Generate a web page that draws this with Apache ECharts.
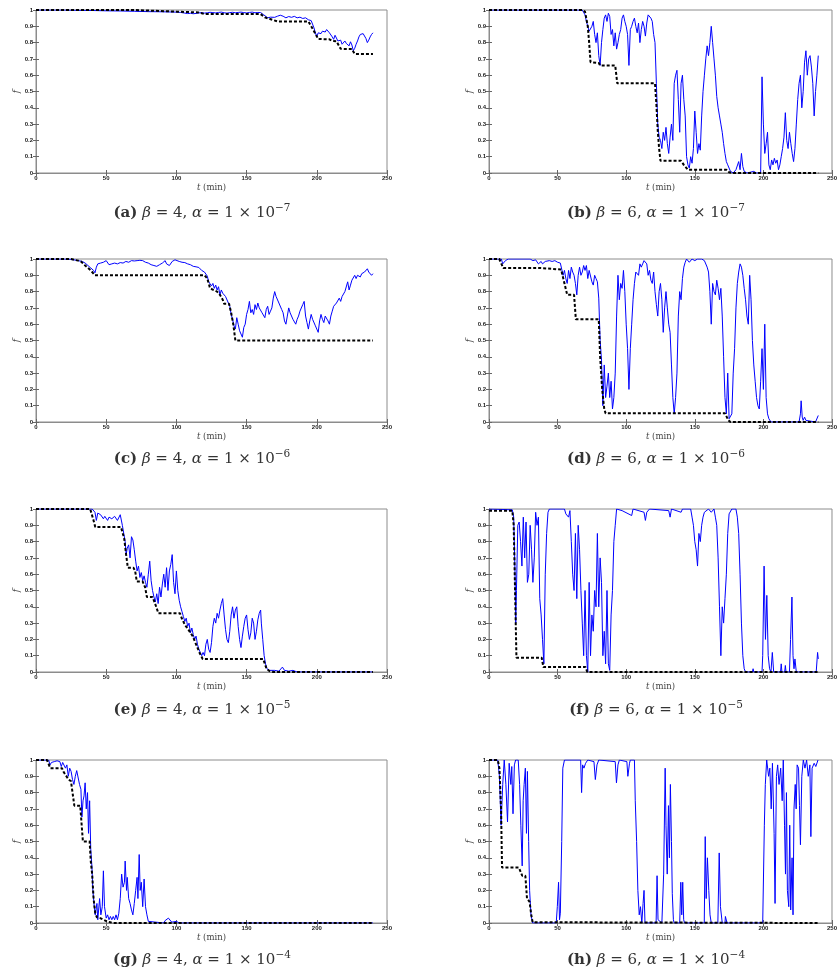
<!DOCTYPE html>
<html lang="en">
<head>
<meta charset="UTF-8">
<title>f vs t</title>
<style>
  html, body { margin: 0; padding: 0; background: #fff; }
  #main { width: 840px; height: 974px; }
</style>
</head>
<body>
<div id="main"></div>
<script src="https://cdn.jsdelivr.net/npm/echarts@6/dist/echarts.min.js"></script>
<script>
// stochastic runs (blue) and deterministic curves (black dashed), [t (min), f]
var stochA = [[0,1],[20,1],[30,0.998],[40,0.997],[50,0.995],[60,0.994],[70,0.992],[80,0.99],[90,0.989],[100,0.987],[103,0.985],[106,0.981],[108,0.978],[110,0.98],[112,0.977],[114,0.979],[116,0.982],[118,0.984],[120,0.981],[122,0.983],[124,0.986],[126,0.984],[128,0.982],[130,0.985],[132,0.987],[134,0.983],[136,0.981],[138,0.984],[140,0.986],[142,0.983],[144,0.985],[146,0.987],[148,0.984],[150,0.982],[152,0.985],[154,0.987],[156,0.983],[158,0.985],[160,0.984],[162,0.972],[163,0.96],[165,0.952],[167,0.956],[168,0.948],[170,0.955],[172,0.962],[174,0.968],[175,0.958],[176,0.962],[178,0.952],[180,0.96],[182,0.955],[184,0.961],[186,0.952],[188,0.956],[190,0.948],[192,0.952],[194,0.94],[196,0.935],[198,0.89],[199,0.86],[200,0.835],[201,0.86],[203,0.855],[204,0.87],[206,0.865],[207,0.88],[208,0.885],[209,0.86],[210,0.87],[211,0.835],[212,0.82],[213,0.845],[214,0.85],[215,0.81],[216,0.80],[217,0.815],[218,0.79],[220,0.81],[221,0.795],[222,0.80],[223,0.78],[224,0.805],[225,0.785],[226,0.75],[227,0.765],[228,0.79],[229,0.81],[230,0.835],[231,0.85],[232,0.86],[233,0.855],[234,0.845],[235,0.825],[236,0.80],[237,0.815],[238,0.835],[239,0.85],[240,0.86]];
var detA = [[0,1],[70,1],[100,0.99],[116,0.985],[120,0.975],[160,0.975],[163,0.955],[172,0.93],[194,0.93],[198,0.87],[201,0.822],[209,0.82],[211,0.81],[214,0.808],[217,0.762],[225,0.76],[227,0.73],[240,0.73]];

var stochB = [[0,1],[68,1],[70,0.97],[71,0.93],[72,0.9],[73,0.87],[74,0.88],[75,0.9],[76,0.93],[77,0.85],[78,0.8],[79,0.86],[80,0.72],[81,0.66],[82,0.8],[83,0.88],[84,0.95],[85,0.97],[86,0.93],[87,0.98],[88,0.96],[89,0.85],[90,0.88],[91,0.78],[92,0.86],[93,0.76],[94,0.8],[95,0.85],[96,0.88],[97,0.95],[98,0.97],[99,0.93],[100,0.9],[101,0.85],[102,0.66],[103,0.88],[104,0.9],[105,0.93],[106,0.95],[107,0.9],[108,0.86],[109,0.92],[110,0.8],[111,0.88],[112,0.93],[113,0.9],[114,0.84],[115,0.92],[116,0.97],[117,0.98],[118,0.95],[119,0.93],[120,0.85],[121,0.8],[122,0.55],[123,0.3],[124,0.22],[125,0.2],[126,0.15],[127,0.25],[128,0.2],[129,0.28],[130,0.18],[131,0.12],[132,0.22],[133,0.3],[134,0.2],[135,0.55],[136,0.6],[137,0.63],[138,0.45],[139,0.25],[140,0.55],[141,0.6],[142,0.45],[143,0.35],[144,0.1],[145,0.05],[146,0.03],[147,0.1],[148,0.06],[149,0.15],[150,0.38],[151,0.25],[152,0.12],[153,0.18],[154,0.14],[155,0.35],[156,0.5],[157,0.6],[158,0.7],[159,0.78],[160,0.72],[161,0.8],[162,0.9],[163,0.8],[164,0.7],[165,0.6],[166,0.47],[167,0.4],[168,0.35],[169,0.3],[170,0.25],[171,0.18],[172,0.12],[173,0.07],[174,0.05],[176,0.01],[178,0],[180,0.02],[181,0.01],[182,0.07],[183,0.02],[184,0.12],[185,0.04],[186,0.01],[188,0],[193,0.01],[194,0.02],[195,0],[198,0],[199,0.59],[200,0.3],[201,0.12],[202,0.18],[203,0.25],[204,0.05],[205,0.02],[206,0.08],[207,0.05],[208,0.09],[209,0.06],[210,0.08],[211,0.02],[212,0.05],[213,0.1],[214,0.15],[215,0.22],[216,0.37],[217,0.2],[218,0.15],[219,0.25],[220,0.18],[221,0.12],[222,0.07],[223,0.15],[224,0.3],[225,0.45],[226,0.55],[227,0.6],[228,0.4],[229,0.5],[230,0.68],[231,0.75],[232,0.6],[233,0.7],[234,0.72],[235,0.65],[236,0.55],[237,0.35],[238,0.5],[239,0.6],[240,0.72]];
var detB = [[0,1],[68,1],[70,0.99],[72,0.9],[73,0.8],[74,0.68],[80,0.675],[81,0.66],[92,0.66],[93.5,0.55],[121,0.55],[122,0.42],[123,0.26],[124,0.15],[125,0.075],[140,0.075],[142,0.05],[145,0.02],[173,0.02],[175,0.005],[177,0],[240,0]];

var stochC = [[0,1],[20,1],[25,0.998],[30,0.99],[33,0.985],[35,0.975],[37,0.96],[39,0.945],[41,0.93],[42,0.915],[43,0.95],[44,0.97],[46,0.975],[48,0.98],[50,0.99],[52,0.965],[54,0.97],[56,0.975],[58,0.97],[60,0.978],[62,0.975],[64,0.985],[66,0.98],[68,0.99],[70,0.988],[72,0.99],[74,0.992],[76,0.99],[78,0.98],[80,0.975],[82,0.965],[84,0.96],[86,0.955],[88,0.965],[90,0.975],[92,0.99],[93,0.97],[95,0.96],[97,0.985],[99,0.995],[100,1],[102,0.985],[104,0.98],[106,0.978],[108,0.97],[110,0.965],[112,0.955],[114,0.952],[116,0.948],[118,0.93],[120,0.92],[121,0.91],[122,0.895],[123,0.86],[124,0.865],[125,0.835],[126,0.85],[127,0.82],[128,0.84],[129,0.81],[130,0.83],[131,0.78],[132,0.81],[133,0.79],[134,0.8],[135,0.77],[136,0.76],[137,0.73],[138,0.71],[139,0.66],[140,0.63],[141,0.59],[142,0.57],[143,0.64],[144,0.6],[145,0.56],[146,0.55],[147,0.52],[148,0.58],[149,0.6],[150,0.66],[151,0.69],[152,0.74],[153,0.67],[154,0.69],[155,0.66],[156,0.72],[157,0.69],[158,0.73],[159,0.7],[160,0.71],[161,0.67],[162,0.68],[163,0.64],[164,0.69],[165,0.71],[166,0.66],[167,0.68],[168,0.7],[169,0.76],[170,0.8],[171,0.77],[172,0.78],[173,0.73],[174,0.74],[175,0.69],[176,0.67],[177,0.62],[178,0.6],[179,0.65],[180,0.7],[181,0.67],[182,0.68],[183,0.63],[184,0.64],[185,0.6],[186,0.63],[187,0.65],[188,0.68],[189,0.69],[190,0.72],[191,0.74],[192,0.65],[193,0.61],[194,0.57],[195,0.62],[196,0.66],[197,0.63],[198,0.62],[199,0.59],[200,0.6],[201,0.55],[202,0.62],[203,0.66],[204,0.63],[205,0.61],[206,0.65],[207,0.66],[208,0.62],[209,0.6],[210,0.65],[211,0.68],[212,0.71],[213,0.7],[214,0.73],[215,0.72],[216,0.76],[217,0.74],[218,0.77],[219,0.77],[220,0.8],[221,0.81],[222,0.86],[223,0.81],[224,0.84],[225,0.87],[226,0.87],[227,0.9],[228,0.88],[229,0.9],[230,0.9],[231,0.89],[232,0.91],[233,0.9],[234,0.92],[235,0.93],[236,0.94],[237,0.92],[238,0.91],[239,0.9],[240,0.91]];
var detC = [[0,1],[25,1],[30,0.99],[32,0.985],[35,0.96],[39,0.93],[42,0.9],[120,0.9],[122,0.88],[123,0.85],[124,0.82],[129,0.8],[131,0.78],[133,0.75],[134,0.725],[137.5,0.725],[139,0.67],[140.5,0.6],[142,0.5],[240,0.5]];

var stochD = [[0,1],[9,1],[10,0.97],[11,0.98],[12,0.99],[14,1],[30,1],[32,0.99],[34,0.995],[36,0.97],[37,0.96],[38,0.985],[39,0.97],[40,0.96],[41,0.985],[42,0.975],[44,0.99],[46,0.985],[48,0.99],[50,0.98],[52,0.975],[53,0.97],[54,0.9],[55,0.93],[56,0.88],[57,0.85],[58,0.93],[59,0.88],[60,0.95],[61,0.92],[62,0.9],[63,0.85],[64,0.78],[65,0.9],[66,0.95],[67,0.9],[68,0.92],[69,0.96],[70,0.93],[71,0.96],[72,0.88],[73,0.93],[74,0.92],[75,0.86],[76,0.84],[77,0.9],[78,0.88],[79,0.86],[80,0.76],[81,0.5],[82,0.38],[83,0.1],[84,0.35],[85,0.15],[86,0.22],[87,0.3],[88,0.15],[89,0.25],[90,0.08],[91,0.15],[92,0.3],[93,0.65],[94,0.9],[95,0.75],[96,0.85],[97,0.82],[98,0.93],[99,0.8],[100,0.6],[101,0.45],[102,0.2],[103,0.45],[104,0.6],[105,0.75],[106,0.85],[107,0.92],[108,0.93],[109,0.9],[110,0.97],[111,0.95],[112,0.97],[113,0.99],[114,1],[115,0.97],[116,0.9],[117,0.93],[118,0.87],[119,0.85],[120,0.92],[121,0.8],[122,0.72],[123,0.65],[124,0.8],[125,0.85],[126,0.75],[127,0.55],[128,0.7],[129,0.8],[130,0.7],[131,0.6],[132,0.55],[133,0.35],[134,0.15],[135,0.05],[136,0.15],[137,0.3],[138,0.65],[139,0.8],[140,0.75],[141,0.88],[142,0.95],[143,0.98],[144,1],[146,0.98],[148,1],[150,0.99],[152,1],[155,1],[157,0.99],[158,0.98],[159,0.95],[160,0.92],[161,0.8],[162,0.6],[163,0.85],[164,0.8],[165,0.78],[166,0.87],[167,0.82],[168,0.75],[169,0.82],[170,0.65],[171,0.4],[172,0.15],[173,0.05],[174,0.3],[175,0.02],[176,0.01],[177,0.05],[178,0.3],[179,0.45],[180,0.7],[181,0.85],[182,0.92],[183,0.97],[184,0.95],[185,0.9],[186,0.82],[187,0.75],[188,0.65],[189,0.6],[190,0.9],[191,0.75],[192,0.5],[193,0.35],[194,0.25],[195,0.15],[196,0.1],[197,0.08],[198,0.25],[199,0.45],[200,0.2],[201,0.6],[202,0.15],[203,0.05],[204,0.02],[205.5,0],[226,0],[227,0.05],[227.5,0.13],[228.3,0.03],[229,0.01],[230,0.03],[231,0.01],[232,0],[238,0],[240,0.04]];
var detD = [[0,1],[7.5,1],[10.4,0.945],[37,0.945],[38,0.935],[52.6,0.935],[55,0.85],[57,0.78],[62,0.78],[63.3,0.63],[80,0.63],[81,0.4],[82.5,0.2],[84,0.08],[85,0.053],[172,0.053],[174.5,0.01],[176,0],[240,0]];

var stochE = [[0,1],[40,1],[41,0.99],[42,0.98],[43,0.93],[44,0.975],[45,0.985],[46,0.965],[47,0.975],[48,0.94],[49,0.955],[50,0.96],[51,0.93],[52,0.95],[53,0.96],[54,0.94],[55,0.93],[56,0.955],[57,0.95],[58,0.93],[59,0.925],[60,0.965],[61,0.97],[61.5,0.9],[62.5,0.85],[63.5,0.8],[64.2,0.72],[65,0.76],[66,0.78],[67,0.7],[68,0.83],[69,0.81],[70,0.75],[71,0.68],[72,0.62],[73,0.65],[74,0.58],[75,0.61],[76,0.56],[77,0.59],[78,0.55],[79,0.52],[80,0.6],[81,0.68],[82,0.56],[83,0.5],[84,0.46],[85,0.43],[86,0.48],[87,0.42],[88,0.52],[89,0.46],[90,0.54],[91,0.6],[92,0.52],[93,0.64],[94,0.5],[95,0.62],[96,0.66],[97,0.72],[98,0.55],[99,0.48],[100,0.62],[101,0.5],[102,0.44],[103,0.4],[104,0.37],[105,0.34],[106,0.31],[107,0.33],[108,0.28],[109,0.3],[110,0.24],[111,0.27],[112,0.23],[113,0.2],[114,0.22],[115,0.17],[116,0.14],[117,0.12],[118,0.1],[119,0.12],[120,0.1],[121,0.17],[122,0.2],[123,0.14],[124,0.12],[125,0.18],[126,0.28],[127,0.33],[128,0.3],[129,0.36],[130,0.33],[131,0.38],[132,0.42],[133,0.45],[134,0.35],[135,0.26],[136,0.2],[137,0.18],[138,0.25],[139,0.35],[140,0.4],[141,0.33],[142,0.38],[143,0.4],[144,0.28],[145,0.2],[146,0.15],[147,0.22],[148,0.28],[149,0.33],[150,0.35],[151,0.26],[152,0.2],[153,0.24],[154,0.33],[155,0.3],[156,0.2],[157,0.25],[158,0.32],[159,0.36],[160,0.38],[160.5,0.3],[161.5,0.2],[162.5,0.1],[163.5,0.05],[164.5,0.02],[166,0.01],[170,0.01],[173,0.005],[175.5,0.03],[177,0.01],[180,0.005],[183,0.01],[186,0],[240,0]];
var detE = [[0,1],[38.6,1],[41,0.93],[42.2,0.89],[60.5,0.89],[62.8,0.82],[64.2,0.72],[65.4,0.64],[69.4,0.64],[70.6,0.62],[71.8,0.555],[76,0.555],[77.7,0.52],[79,0.46],[83,0.46],[84.8,0.42],[87.2,0.36],[102.6,0.36],[103.8,0.33],[106,0.29],[108.5,0.26],[111.6,0.22],[114,0.17],[116.4,0.12],[118.7,0.08],[161.8,0.08],[164.2,0.02],[166.5,0.005],[169,0],[240,0]];

var stochF = [[0,1],[17,0.995],[18,0.95],[19,0.6],[19.5,0.3],[20,0.5],[21,0.9],[22,0.92],[23,0.8],[24,0.65],[25,0.95],[26,0.7],[27,0.92],[28,0.55],[29,0.6],[30,0.9],[31,0.75],[32,0.55],[33,0.7],[34,0.98],[35,0.9],[36,0.95],[37,0.45],[38,0.35],[39,0.2],[40,0.05],[41,0.6],[42,0.85],[43,0.98],[44,1],[55,1],[56,0.97],[57,0.96],[58,0.95],[59,0.99],[60,0.8],[61,0.6],[62,0.5],[63,0.85],[64,0.45],[65,0.9],[66,0.75],[67,0.5],[68,0.3],[69,0.1],[70,0.5],[71,0.1],[72,0],[73,0.55],[74,0.1],[75,0.35],[76,0.25],[77,0.5],[78,0.4],[79,0.85],[80,0.4],[81,0.7],[82,0.55],[83,0.1],[84,0.25],[85,0.05],[86,0.5],[87,0.05],[88,0.01],[89,0.35],[90,0.5],[91,0.8],[92,0.9],[93,1],[97,0.99],[98,1],[104,0.96],[105,1],[113,0.98],[114,0.93],[115,0.98],[117,1],[131,0.99],[132,0.95],[133,1],[140,0.98],[141,1],[147,1],[148,0.95],[149,0.9],[150,0.8],[151,0.75],[152,0.65],[153,0.85],[154,0.8],[155,0.9],[156,0.95],[157,0.98],[158,0.97],[160,1],[162,0.98],[164,1],[165,0.95],[166,0.9],[167,0.7],[168,0.4],[169,0.1],[170,0.4],[171,0.3],[172,0.45],[173,0.6],[174,0.85],[175,0.97],[177,1],[180,1],[181,0.95],[182,0.85],[183,0.6],[184,0.3],[185,0.1],[186,0.02],[187,0],[192,0],[192.5,0.02],[193,0],[199,0],[199.5,0.1],[200.5,0.65],[201.5,0.2],[202.5,0.47],[203.5,0.1],[204.5,0.02],[205.5,0],[206.5,0.12],[207.5,0],[212.5,0],[213,0.05],[213.5,0],[215.5,0],[216,0.04],[216.5,0],[219,0],[219.8,0.2],[220.8,0.46],[221.6,0.1],[222.3,0.02],[223,0.08],[224,0],[238.5,0],[239.5,0.12],[240,0.08]];
var detF = [[0,0.99],[17,0.99],[18,0.9],[19,0.5],[20,0.088],[38.4,0.088],[39.6,0.03],[70.4,0.03],[71.6,0],[240,0]];

var stochG = [[0,1],[9,1],[10,0.97],[11,0.985],[12,0.98],[13,0.99],[14,0.985],[15,0.995],[16,1],[17,0.99],[18,0.96],[19,0.985],[20,0.99],[21,0.95],[22,0.97],[23,0.9],[24,0.95],[25,0.93],[26,0.88],[27,0.85],[28,0.9],[29,0.935],[30,0.93],[31,0.85],[32,0.82],[32.7,0.65],[33.5,0.75],[34.2,0.78],[35,0.86],[35.8,0.7],[36.7,0.8],[37.4,0.55],[38.2,0.75],[39,0.45],[39.8,0.35],[40.5,0.2],[41.5,0.1],[42.2,0.05],[43.4,0.12],[44,0.02],[45.3,0.15],[46.2,0.05],[47.2,0.1],[48,0.32],[48.8,0.1],[50,0.03],[51,0.05],[52,0.02],[53,0.04],[54,0.02],[55,0.04],[56,0.02],[57,0.05],[58,0.02],[59,0.06],[60,0.15],[61,0.3],[62,0.22],[63,0.25],[63.5,0.38],[64.5,0.2],[65,0.28],[66,0.15],[67,0.12],[68,0.08],[69,0.05],[70,0.12],[71,0.2],[72,0.28],[72.6,0.15],[73.5,0.42],[74.2,0.2],[75,0.25],[76,0.1],[77,0.27],[78,0.1],[79,0.05],[80,0.01],[81,0],[91,0],[92,0.015],[93,0.01],[94.3,0.03],[95.5,0.02],[96.7,0.005],[100,0.01],[102,0],[240,0]];
var detG = [[0,1],[7.8,1],[10.2,0.95],[18.5,0.95],[19.7,0.926],[20.9,0.926],[23.2,0.88],[24.9,0.87],[27.3,0.72],[31.5,0.72],[33.4,0.5],[38.2,0.5],[39,0.38],[40,0.3],[41,0.15],[42.2,0.06],[43.4,0.035],[45.7,0.03],[48.1,0.02],[50.5,0.01],[52.8,0.005],[55,0],[240,0]];

var stochH = [[0,1],[6.4,1],[7.6,0.9],[8.8,0.6],[10,0.85],[11.1,1],[12.3,0.85],[13.5,0.62],[14.7,0.98],[15.9,0.85],[16.6,0.96],[17.5,0.67],[18.5,0.97],[19.4,1],[21.3,1],[22.3,0.85],[23.2,0.6],[24.2,0.35],[24.9,0.75],[25.6,0.85],[26.5,0.95],[27.3,0.55],[28,0.93],[28.9,0.5],[29.6,0.2],[30.6,0.05],[31.8,0],[49,0],[49.8,0.1],[50.7,0.25],[51.4,0.02],[52,0.06],[53,0.5],[53.8,0.95],[55,1],[66.8,1],[67.5,0.8],[68.2,0.97],[69.2,0.95],[70.4,0.98],[72,1],[76.5,0.99],[77.5,0.88],[78.7,0.97],[80,1],[92,0.99],[92.9,0.86],[94,0.97],[95,1],[100.5,0.99],[101.2,0.9],[102.4,0.98],[103,1],[106,1],[106.6,0.75],[107.6,0.5],[108.5,0.2],[109.5,0.05],[110.4,0.1],[111.4,0],[112.3,0.12],[113,0.2],[113.7,0],[121.8,0],[122.5,0.29],[123.2,0.02],[126,0],[127.3,0.3],[128.4,0.95],[129,0.6],[129.9,0.3],[130.8,0.72],[131.5,0.4],[132.2,0.85],[133,0.5],[133.6,0.18],[134.4,0.02],[135,0],[139,0],[139.8,0.25],[140.5,0.05],[141.2,0.25],[141.9,0.02],[142.5,0],[156.9,0],[157.6,0.53],[158.3,0.15],[159.2,0.4],[160.2,0.2],[161.1,0.05],[162,0],[166.8,0],[167.8,0.43],[168.7,0.1],[170,0],[172,0],[172.3,0.04],[173.5,0],[199.5,0],[200.7,0.6],[201.4,0.85],[202.4,1],[203.8,0.9],[204.7,0.95],[205.7,0.7],[206.6,0.98],[207.8,0.55],[208.5,0.12],[209.5,0.9],[210.4,0.97],[211.4,0.85],[212.6,0.95],[213.7,0.75],[214.5,1],[215.4,0.6],[216.1,0.3],[216.8,0.8],[217.5,0.2],[218.5,0.1],[219.2,0.6],[219.9,0.08],[220.9,0.4],[221.6,0.05],[222.3,0.7],[223.2,0.85],[223.9,0.7],[224.6,0.97],[225.6,0.95],[226.3,0.72],[227,0.48],[228,0.9],[229.1,1],[230.3,0.95],[231.5,1],[232.7,0.9],[233.9,0.97],[234.6,0.53],[235.5,0.95],[237,0.98],[238.2,0.96],[239.8,1]];
var detH = [[0,1],[6.4,1],[7.6,0.95],[8.8,0.7],[9.5,0.34],[21.8,0.34],[24.2,0.29],[26.5,0.29],[27.7,0.15],[29.6,0.13],[30.8,0.05],[31.8,0.005],[32.5,0],[240,0]];

var stochRuns = [stochA, stochB, stochC, stochD, stochE, stochF, stochG, stochH];
var detRuns = [detA, detB, detC, detD, detE, detF, detG, detH];
var panelLetters = ['a', 'b', 'c', 'd', 'e', 'f', 'g', 'h'];
var betas = [4, 6, 4, 6, 4, 6, 4, 6];
var alphaExps = ['−7', '−7', '−6', '−6', '−5', '−5', '−4', '−4'];

var myChart = echarts.init(document.getElementById('main'));

var rowTops = [10, 259, 509, 760];
var colLefts = [36, 489];
var capY = [213, 459, 710, 960];
var capX = [202, 656];
var frame = '#8c8c8c';
var tickFont = { fontSize: 6, fontWeight: 'bold', color: '#222', fontFamily: 'Liberation Sans' };
var serif = 'DejaVu Serif';

var grids = [], xAxes = [], yAxes = [], series = [], graphics = [];

for (var i = 0; i < 8; i++) {
    var col = i % 2, row = Math.floor(i / 2);
    grids.push({
        left: colLefts[col], top: rowTops[row], width: 351, height: 163,
        show: true, borderColor: frame, borderWidth: 1, backgroundColor: '#fff'
    });
    // bottom / top x axes
    xAxes.push({
        type: 'value', gridIndex: i, min: 0, max: 250, interval: 50, position: 'bottom',
        axisLine: { show: true, lineStyle: { color: frame, width: 1 } },
        axisTick: { show: true, inside: true, length: 3, lineStyle: { color: '#666' } },
        axisLabel: Object.assign({ margin: 2 }, tickFont),
        splitLine: { show: false },
        name: '{i|t} (min)', nameLocation: 'middle', nameGap: 10,
        nameTextStyle: {
            fontFamily: serif, fontSize: 8.5, color: '#444',
            rich: { i: { fontFamily: serif, fontStyle: 'italic', fontSize: 8.5, color: '#444' } }
        }
    });
    xAxes.push({
        type: 'value', gridIndex: i, min: 0, max: 250, interval: 50, position: 'top',
        axisLine: { show: true, lineStyle: { color: frame, width: 1 } },
        axisTick: { show: true, inside: true, length: 3, lineStyle: { color: '#666' } },
        axisLabel: { show: false }, splitLine: { show: false }
    });
    yAxes.push({
        type: 'value', gridIndex: i, min: 0, max: 1, interval: 0.1, position: 'left',
        axisLine: { show: true, lineStyle: { color: frame, width: 1 } },
        axisTick: { show: true, inside: true, length: 3, lineStyle: { color: '#666' } },
        axisLabel: Object.assign({ margin: 3 }, tickFont),
        splitLine: { show: false },
        name: 'f', nameLocation: 'middle', nameGap: 11, nameRotate: 90,
        nameTextStyle: { fontFamily: serif, fontStyle: 'italic', fontSize: 9, color: '#444' }
    });
    yAxes.push({
        type: 'value', gridIndex: i, min: 0, max: 1, interval: 0.1, position: 'right',
        axisLine: { show: true, lineStyle: { color: frame, width: 1 } },
        axisTick: { show: true, inside: true, length: 3, lineStyle: { color: '#666' } },
        axisLabel: { show: false }, splitLine: { show: false }
    });

    series.push({
        type: 'line', xAxisIndex: 2 * i, yAxisIndex: 2 * i, data: stochRuns[i],
        showSymbol: false, silent: true, z: 2,
        lineStyle: { color: '#0000ff', width: 1 }
    });
    series.push({
        type: 'line', xAxisIndex: 2 * i, yAxisIndex: 2 * i, data: detRuns[i],
        showSymbol: false, silent: true, z: 3,
        lineStyle: { color: '#000', width: 2, type: [3, 2] }
    });

    graphics.push({
        type: 'text', x: capX[col], y: capY[row],
        style: {
            text: '{b|(' + panelLetters[i] + ')} {i|β} = ' + betas[i] + ', {i|α} = 1 × 10{s|' + alphaExps[i] + '}',
            align: 'center', verticalAlign: 'middle',
            fontFamily: serif, fontSize: 15, fill: '#333', lineHeight: 21,
            rich: {
                b: { fontFamily: serif, fontWeight: 'bold', fontSize: 15, lineHeight: 21, fill: '#333' },
                i: { fontFamily: serif, fontStyle: 'italic', fontSize: 15, lineHeight: 21, fill: '#333' },
                s: { fontFamily: serif, fontSize: 10.5, lineHeight: 9, verticalAlign: 'top', fill: '#333' }
            }
        }
    });
}

myChart.setOption({
    backgroundColor: '#fff',
    animation: false,
    grid: grids,
    xAxis: xAxes,
    yAxis: yAxes,
    series: series,
    graphic: graphics
});
</script>
</body>
</html>
